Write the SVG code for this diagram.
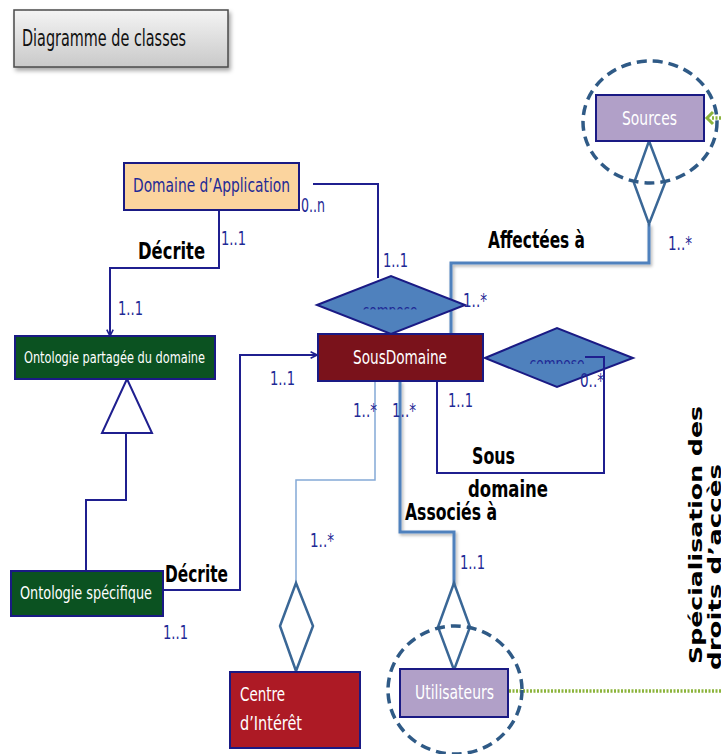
<svg xmlns="http://www.w3.org/2000/svg" width="721" height="754" viewBox="0 0 721 754">
  <defs>
    <linearGradient id="titleGrad" x1="0" y1="0" x2="0" y2="1">
      <stop offset="0" stop-color="#f4f4f4"/>
      <stop offset="1" stop-color="#c9c9c9"/>
    </linearGradient>
    <filter id="shadow" x="-10%" y="-10%" width="130%" height="140%">
      <feDropShadow dx="2" dy="3" stdDeviation="2" flood-color="#000" flood-opacity="0.35"/>
    </filter>
    <filter id="lineShadow" x="-10%" y="-10%" width="130%" height="130%">
      <feDropShadow dx="1.5" dy="2" stdDeviation="1.5" flood-color="#000" flood-opacity="0.3"/>
    </filter>
    <marker id="arrowNavy" viewBox="0 0 10 10" refX="9" refY="5" markerWidth="8" markerHeight="8" markerUnits="userSpaceOnUse" orient="auto">
      <path d="M1,1 L9,5 L1,9" fill="none" stroke="#1f1f8f" stroke-width="2"/>
    </marker>
    <clipPath id="clipCompose1"><rect x="300" y="290" width="180" height="19.5"/></clipPath>
    <clipPath id="clipCompose2"><rect x="480" y="340" width="160" height="24"/></clipPath>
    <style>
      .node { stroke: #1a1a84; stroke-width: 2; }
      .lbl { font-family: "Liberation Sans Narrow", "DejaVu Sans Condensed", "Liberation Sans", sans-serif; }
      .white { fill: #ffffff; }
      .mult { fill: #1f2a96; font-size: 20px; font-family: "Liberation Sans Narrow", "DejaVu Sans Condensed", "Liberation Sans", sans-serif; }
      .role { fill: #000; font-size: 23px; font-weight: bold; font-family: "DejaVu Sans Condensed", "Liberation Sans Narrow", "Liberation Sans", sans-serif; }
      .navyLine { fill: none; stroke: #1f1f8f; stroke-width: 2; }
      .blueLine { fill: none; stroke: #4f81bd; stroke-width: 3; }
      .thinLine { fill: none; stroke: #84a9d6; stroke-width: 1.5; }
      .aggr { fill: #ffffff; stroke: #3a6796; stroke-width: 2.5; }
      .assoc { fill: #4f81bd; stroke: #1a1a84; stroke-width: 2; }
      .halo { fill: none; stroke: #2f5a86; stroke-width: 3.5; stroke-dasharray: 10 6; }
      .green { fill: none; stroke: #8cb43c; stroke-width: 3.5; stroke-dasharray: 2 1.5; }
    </style>
  </defs>

  <rect width="721" height="754" fill="#ffffff"/>

  <!-- title box -->
  <g id="title">
    <rect x="14" y="10" width="214" height="57" fill="url(#titleGrad)" stroke="#4a4a4a" stroke-width="1.5" filter="url(#shadow)"/>
    <text x="22" y="46" class="lbl" font-size="23" fill="#111" textLength="164" lengthAdjust="spacingAndGlyphs">Diagramme de classes</text>
  </g>

  <!-- connectors -->
  <g id="connectors">
    <!-- Domaine d'Application -> Ontologie partagee (Decrite) -->
    <polyline class="navyLine" points="219,210 219,268 110,268 110,336" marker-end="url(#arrowNavy)"/>
    <!-- Domaine d'Application -> compose -->
    <polyline class="navyLine" points="313,184 378,184 378,278"/>
    <!-- generalisation Ontologie specifique -> Ontologie partagee -->
    <polyline class="navyLine" points="126,433 126,500 86,500 86,571"/>
    <polygon points="127,379 152,433 102,433" fill="#ffffff" stroke="#1f1f8f" stroke-width="2"/>
    <!-- Ontologie specifique -> SousDomaine (Decrite) -->
    <polyline class="navyLine" points="163,590 240,590 240,355 317,355" marker-end="url(#arrowNavy)"/>
    <!-- SousDomaine self loop through compose -->
    <polyline class="navyLine" points="585,357 604,357 604,473 437,473 437,377 431,377"/>
    <!-- Sources aggregation -> SousDomaine (Affectees a) -->
    <polyline class="blueLine" points="649,224 649,263 451,263 451,335" filter="url(#lineShadow)"/>
    <!-- SousDomaine -> Utilisateurs (Associes a) -->
    <polyline class="blueLine" points="400,381 400,532 454,532 454,584" filter="url(#lineShadow)"/>
    <!-- SousDomaine -> Centre d'Interet -->
    <polyline class="thinLine" points="375,381 375,480 296,480 296,584"/>
    <!-- aggregation diamonds -->
    <polygon class="aggr" points="649,141 665,183 649,224 634,183"/>
    <polygon class="aggr" points="454,583 470,627 454,670 438,627"/>
    <polygon class="aggr" points="296,583 313,626 296,671 280,626"/>
    <!-- access rights links -->
    <line class="green" x1="712" y1="118" x2="721" y2="118"/>
    <polyline points="713,112 707,118 713,124" fill="none" stroke="#8cb43c" stroke-width="3"/>
    <line class="green" x1="509" y1="691" x2="721" y2="691"/>
  </g>

  <!-- association diamonds -->
  <g id="compose1">
    <polygon class="assoc" points="317,305 391,276 465,305 391,334"/>
    <text x="390" y="316" text-anchor="middle" font-size="15" fill="#1f2a96" class="lbl" clip-path="url(#clipCompose1)" textLength="55" lengthAdjust="spacingAndGlyphs">compose</text>
  </g>
  <g id="compose2">
    <polygon class="assoc" points="485,358 557,328 633,358 557,387"/>
    <text x="557" y="369" text-anchor="middle" font-size="15" fill="#1f2a96" class="lbl" clip-path="url(#clipCompose2)" textLength="55" lengthAdjust="spacingAndGlyphs">compose</text>
  </g>
  <!-- loop segment drawn over the compose diamond -->
  <polyline class="navyLine" points="585,357 604,357 604,380"/>

  <!-- nodes -->
  <g id="sources">
    <ellipse class="halo" cx="650" cy="122" rx="67" ry="61"/>
    <rect class="node" x="596" y="95" width="108" height="46" fill="#b1a0c8"/>
    <text x="622" y="125" class="lbl white" font-size="19" textLength="55" lengthAdjust="spacingAndGlyphs">Sources</text>
  </g>

  <g id="domaine-application">
    <rect class="node" x="124" y="163" width="175" height="47" fill="#fbd49e"/>
    <text x="133" y="192" class="lbl" font-size="19" fill="#1f2a96" textLength="157" lengthAdjust="spacingAndGlyphs">Domaine d’Application</text>
  </g>

  <g id="ontologie-partagee">
    <rect class="node" x="15" y="336" width="200" height="43" fill="#0b5221"/>
    <text x="24" y="363" class="lbl" font-size="16" fill="#ffffff" textLength="181" lengthAdjust="spacingAndGlyphs">Ontologie partagée  du domaine</text>
  </g>

  <g id="sousdomaine">
    <rect class="node" x="318" y="334" width="165" height="47" fill="#7a121b"/>
    <text x="353" y="364" class="lbl white" font-size="19" textLength="94" lengthAdjust="spacingAndGlyphs">SousDomaine</text>
  </g>

  <g id="ontologie-specifique">
    <rect class="node" x="11" y="571" width="152" height="45" fill="#0b5221"/>
    <text x="20" y="599" class="lbl" font-size="17" fill="#ffffff" textLength="132" lengthAdjust="spacingAndGlyphs">Ontologie  spécifique</text>
  </g>

  <g id="centre-interet">
    <rect class="node" x="230" y="672" width="130" height="76" fill="#ad1a25"/>
    <text x="240" y="701" class="lbl white" font-size="20" textLength="45" lengthAdjust="spacingAndGlyphs">Centre</text>
    <text x="240" y="730" class="lbl white" font-size="20" textLength="62" lengthAdjust="spacingAndGlyphs">d’Intérêt</text>
  </g>

  <g id="utilisateurs">
    <ellipse class="halo" cx="455" cy="690" rx="67" ry="64"/>
    <rect class="node" x="400" y="669" width="108" height="48" fill="#b1a0c8"/>
    <text x="415" y="699" class="lbl white" font-size="19" textLength="79" lengthAdjust="spacingAndGlyphs">Utilisateurs</text>
  </g>

  <!-- role names -->
  <g id="roles">
    <text x="138" y="259" class="role" textLength="67" lengthAdjust="spacingAndGlyphs">Décrite</text>
    <text x="165" y="582" class="role" textLength="63" lengthAdjust="spacingAndGlyphs">Décrite</text>
    <text x="488" y="248" class="role" textLength="97" lengthAdjust="spacingAndGlyphs">Affectées à</text>
    <text x="472" y="464" class="role" textLength="43" lengthAdjust="spacingAndGlyphs">Sous</text>
    <text x="468" y="497" class="role" textLength="80" lengthAdjust="spacingAndGlyphs">domaine</text>
    <text x="405" y="520" class="role" textLength="92" lengthAdjust="spacingAndGlyphs">Associés à</text>
  </g>

  <!-- multiplicities -->
  <g id="multiplicities">
    <text x="221" y="245" class="mult" textLength="25" lengthAdjust="spacingAndGlyphs">1..1</text>
    <text x="301" y="212" class="mult" textLength="24" lengthAdjust="spacingAndGlyphs">0..n</text>
    <text x="118" y="315" class="mult" textLength="25" lengthAdjust="spacingAndGlyphs">1..1</text>
    <text x="383" y="267" class="mult" textLength="25" lengthAdjust="spacingAndGlyphs">1..1</text>
    <text x="463" y="307" class="mult" textLength="24" lengthAdjust="spacingAndGlyphs">1..*</text>
    <text x="668" y="250" class="mult" textLength="24" lengthAdjust="spacingAndGlyphs">1..*</text>
    <text x="270" y="385" class="mult" textLength="25" lengthAdjust="spacingAndGlyphs">1..1</text>
    <text x="353" y="417" class="mult" textLength="24" lengthAdjust="spacingAndGlyphs">1..*</text>
    <text x="392" y="417" class="mult" textLength="24" lengthAdjust="spacingAndGlyphs">1..*</text>
    <text x="448" y="407" class="mult" textLength="25" lengthAdjust="spacingAndGlyphs">1..1</text>
    <text x="580" y="387" class="mult" textLength="24" lengthAdjust="spacingAndGlyphs">0..*</text>
    <text x="310" y="547" class="mult" textLength="24" lengthAdjust="spacingAndGlyphs">1..*</text>
    <text x="460" y="569" class="mult" textLength="25" lengthAdjust="spacingAndGlyphs">1..1</text>
    <text x="163" y="639" class="mult" textLength="25" lengthAdjust="spacingAndGlyphs">1..1</text>
  </g>

  <!-- vertical caption -->
  <g id="caption" font-family="DejaVu Sans, Verdana, sans-serif" font-weight="bold" font-size="18" fill="#000">
    <text transform="translate(702,664) rotate(-90)" textLength="258" lengthAdjust="spacingAndGlyphs">Spécialisation des</text>
    <text transform="translate(721,670) rotate(-90)" textLength="206" lengthAdjust="spacingAndGlyphs">droits d’accès</text>
  </g>
</svg>
